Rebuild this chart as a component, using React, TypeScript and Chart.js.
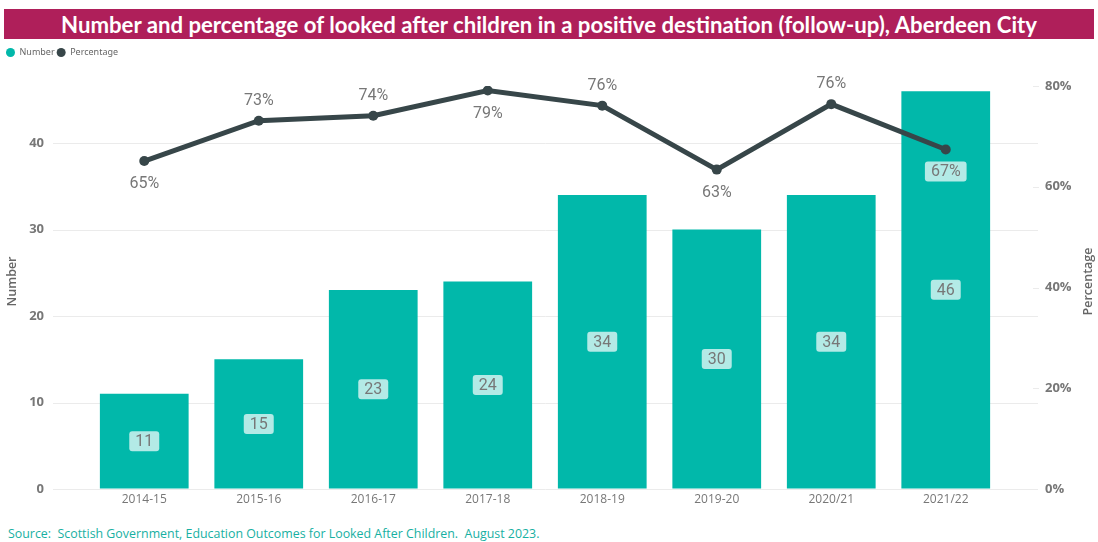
import React, { useEffect, useRef } from "react";
import { Chart, registerables } from "chart.js";

Chart.register(...registerables);

const titleText =
  "Number and percentage of looked after children in a positive destination (follow-up), Aberdeen City";
const sourceText =
  "Source:  Scottish Government, Education Outcomes for Looked After Children.  August 2023.";

const categories = ["2014-15", "2015-16", "2016-17", "2017-18", "2018-19", "2019-20", "2020/21", "2021/22"];
const numberValues = [11, 15, 23, 24, 34, 30, 34, 46];
const percentageValues = [65.1, 73.1, 74.1, 79.1, 76.1, 63.4, 76.4, 67.4];
const percentLabelSide = ["below", "above", "above", "below", "above", "below", "above", "below"];

const leftAxisTitle = "Number";
const rightAxisTitle = "Percentage";
const leftAxisMax = 46.6;
const rightAxisMax = 80;

const TEAL = "#01B8AA";
const SLATE = "#374649";
const GREY = "#777777";

const CANVAS_TOP = 44;
const CANVAS_H = 465;

const overlayPlugin = {
  id: "overlay",
  afterInit(chart: any) {
    const lg = chart.legend;
    if (lg && !lg.__patched) {
      const orig = lg.fit.bind(lg);
      lg.fit = function () {
        orig();
        this.height += 19;
      };
      lg.__patched = true;
    }
  },
  beforeDatasetsDraw(chart: any) {
    const { ctx, chartArea } = chart;
    const y = chart.scales.y;
    const y1 = chart.scales.y1;
    ctx.save();
    ctx.strokeStyle = "#ebebeb";
    ctx.lineWidth = 1;
    y.ticks.forEach((t: any) => {
      const py = Math.round(y.getPixelForValue(t.value)) + 0.5;
      ctx.beginPath();
      ctx.moveTo(chartArea.left - 34, py);
      ctx.lineTo(chartArea.right + 35, py);
      ctx.stroke();
    });
    y1.ticks.forEach((t: any) => {
      if (t.value === 0) return;
      const py = Math.round(y1.getPixelForValue(t.value)) + 0.5;
      ctx.beginPath();
      ctx.moveTo(chartArea.right + 30, py);
      ctx.lineTo(chartArea.right + 36, py);
      ctx.stroke();
    });
    // axis titles (both read bottom-to-top)
    const midY = (chartArea.top + chartArea.bottom) / 2 - 6;
    ctx.fillStyle = "#666";
    ctx.font = "600 12.5px 'Open Sans'";
    ctx.textAlign = "center";
    ctx.textBaseline = "middle";
    [
      [12, leftAxisTitle],
      [chart.width - 10, rightAxisTitle],
    ].forEach(([x, text]: any) => {
      ctx.save();
      ctx.translate(x, midY);
      ctx.rotate(-Math.PI / 2);
      ctx.fillText(text, 0, 0);
      ctx.restore();
    });
    ctx.restore();
  },
  afterDatasetsDraw(chart: any) {
    const { ctx } = chart;
    const barMeta = chart.getDatasetMeta(0);
    const lineMeta = chart.getDatasetMeta(1);
    ctx.save();
    ctx.font = "16px Roboto";
    ctx.textAlign = "center";
    ctx.textBaseline = "middle";
    const box = (cx: number, cy: number, text: string) => {
      const w = ctx.measureText(text).width + 12;
      const h = 20;
      ctx.fillStyle = "rgba(255,255,255,0.7)";
      ctx.beginPath();
      ctx.roundRect(cx - w / 2, cy - h / 2, w, h, 3);
      ctx.fill();
    };
    barMeta.data.forEach((el: any, i: number) => {
      const cy = (el.y + el.base) / 2;
      const text = String(numberValues[i]);
      box(el.x, cy, text);
      ctx.fillStyle = GREY;
      ctx.fillText(text, el.x, cy + 1);
    });
    lineMeta.data.forEach((el: any, i: number) => {
      const text = Math.round(percentageValues[i]) + "%";
      const cy = el.y + (percentLabelSide[i] === "below" ? 22 : -21);
      const bar = barMeta.data[i];
      if (bar && cy - 10 > bar.y) box(el.x, cy, text);
      ctx.fillStyle = GREY;
      ctx.fillText(text, el.x, cy + 1);
    });
    ctx.restore();
  },
};

// invisible tick marks used only as horizontal spacing between the labels and the plot
const hiddenGrid = (len: number) => ({
  display: true,
  drawOnChartArea: false,
  drawTicks: true,
  tickLength: len,
  color: "rgba(0,0,0,0)",
});

export default function App() {
  const canvasRef = useRef<HTMLCanvasElement | null>(null);

  useEffect(() => {
    if (!canvasRef.current) return;
    const chart = new Chart(canvasRef.current, {
      type: "bar",
      data: {
        labels: categories,
        datasets: [
          {
            type: "bar",
            label: "Number",
            data: numberValues,
            backgroundColor: TEAL,
            borderWidth: 0,
            barPercentage: 0.775,
            categoryPercentage: 1,
            yAxisID: "y",
            order: 1,
          } as any,
          {
            type: "line",
            label: "Percentage",
            data: percentageValues,
            borderColor: SLATE,
            backgroundColor: SLATE,
            borderWidth: 5,
            pointRadius: 5,
            pointBackgroundColor: SLATE,
            pointBorderWidth: 0,
            tension: 0,
            yAxisID: "y1",
            order: 0,
          } as any,
        ],
      },
      options: {
        animation: false,
        responsive: false,
        maintainAspectRatio: false,
        devicePixelRatio: 1,
        layout: { padding: { left: 4, right: 2, top: 2, bottom: 0 } },
        plugins: {
          tooltip: { enabled: false },
          legend: {
            display: true,
            position: "top",
            align: "start",
            labels: {
              usePointStyle: true,
              pointStyle: "circle",
              boxHeight: 6.4,
              pointStyleWidth: 9,
              padding: 2,
              color: "#666",
              font: { size: 9, family: "'Noto Sans'" },
              generateLabels: (chart: any) => {
                const items = Chart.defaults.plugins.legend.labels.generateLabels(chart);
                return items
                  .map((it: any) => ({ ...it, lineWidth: 0, strokeStyle: it.fillStyle }))
                  .sort((a: any, b: any) => a.datasetIndex - b.datasetIndex);
              },
            },
          },
        },
        scales: {
          x: {
            type: "category",
            offset: true,
            grid: { display: false, drawTicks: false },
            border: { display: false },
            ticks: {
              color: GREY,
              font: { size: 12, family: "'Open Sans'" },
              padding: 3,
              autoSkip: false,
              maxRotation: 0,
            },
            afterFit: (s: any) => {
              s.height = 20;
            },
          },
          y: {
            type: "linear",
            position: "left",
            min: 0,
            max: leftAxisMax,
            grid: hiddenGrid(39),
            border: { display: false },
            ticks: {
              stepSize: 10,
              includeBounds: false,
              padding: 4,
              color: GREY,
              font: { size: 13, weight: "bold", family: "'Open Sans'" },
            },
            afterFit: (s: any) => {
              s.width = 83;
            },
          },
          y1: {
            type: "linear",
            position: "right",
            min: 0,
            max: rightAxisMax,
            grid: hiddenGrid(38),
            border: { display: false },
            ticks: {
              stepSize: 20,
              includeBounds: false,
              padding: 4,
              color: GREY,
              font: { size: 13, weight: "bold", family: "'Open Sans'" },
              callback: (v: any) => v + "%",
            },
            afterFit: (s: any) => {
              s.width = 93;
            },
          },
        },
      } as any,
      plugins: [overlayPlugin],
    });
    return () => chart.destroy();
  }, []);

  return (
    <div style={{ position: "relative", width: 1098, height: 542, background: "#fff", overflow: "hidden" }}>
      <style>{"body{margin:0}"}</style>
      <div
        style={{
          position: "absolute",
          left: 4,
          top: 9,
          width: 1090,
          height: 30,
          background: "#AF1F5A",
          color: "#fff",
          fontFamily: "Lato",
          fontWeight: 700,
          fontSize: 22.2,
          display: "flex",
          alignItems: "center",
          justifyContent: "center",
          whiteSpace: "nowrap",
        }}
      >
        {titleText}
      </div>
      <canvas
        ref={canvasRef}
        width={1098}
        height={CANVAS_H}
        style={{ position: "absolute", left: 0, top: CANVAS_TOP, width: 1098, height: CANVAS_H }}
      />
      <div
        style={{
          position: "absolute",
          left: 8,
          top: 525,
          fontFamily: "'Open Sans'",
          fontSize: 12.4,
          color: "#17B0A2",
          whiteSpace: "pre",
        }}
      >
        {sourceText}
      </div>
    </div>
  );
}
